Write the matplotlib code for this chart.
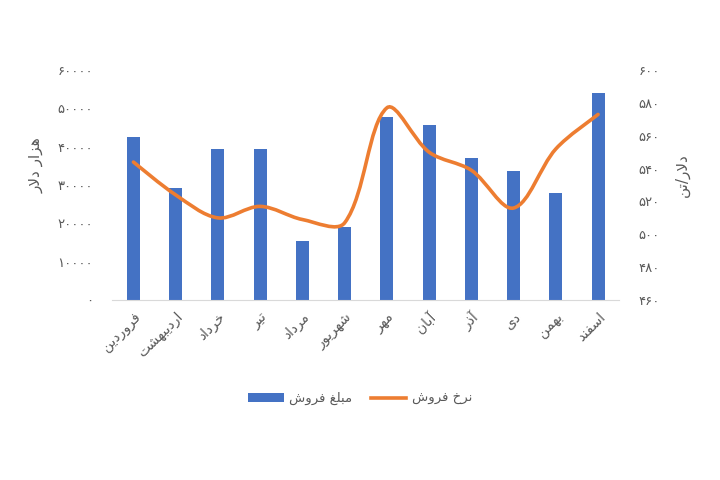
import numpy as np
import matplotlib
matplotlib.use('Agg')
import matplotlib.pyplot as plt
from matplotlib.path import Path
from matplotlib.patches import PathPatch, Patch
from matplotlib.lines import Line2D

plt.rcParams['font.family'] = ['DejaVu Sans']

# داده‌ها
months = ['فروردین', 'اردیبهشت', 'خرداد', 'تیر', 'مرداد', 'شهریور',
          'مهر', 'آبان', 'آذر', 'دی', 'بهمن', 'اسفند']
sales_amount = [42600, 29300, 39400, 39400, 15500, 19100,
                47700, 45700, 37000, 33700, 27800, 53900]
sales_rate = [544, 524, 510, 517, 509, 507, 577, 550, 539, 516, 552, 573]
left_ticks = [0, 10000, 20000, 30000, 40000, 50000, 60000]
right_ticks = [460, 480, 500, 520, 540, 560, 580, 600]

# شکل‌دهی حروف فارسی (matplotlib این کار را خودش نمی‌کند)
# (isolated, final, initial, medial)
FORMS = {
    'ا': ('\uFE8D', '\uFE8E', None, None),
    'آ': ('\uFE81', '\uFE82', None, None),
    'ب': ('\uFE8F', '\uFE90', '\uFE91', '\uFE92'),
    'ت': ('\uFE95', '\uFE96', '\uFE97', '\uFE98'),
    'خ': ('\uFEA5', '\uFEA6', '\uFEA7', '\uFEA8'),
    'د': ('\uFEA9', '\uFEAA', None, None),
    'ذ': ('\uFEAB', '\uFEAC', None, None),
    'ر': ('\uFEAD', '\uFEAE', None, None),
    'ز': ('\uFEAF', '\uFEB0', None, None),
    'س': ('\uFEB1', '\uFEB2', '\uFEB3', '\uFEB4'),
    'ش': ('\uFEB5', '\uFEB6', '\uFEB7', '\uFEB8'),
    'غ': ('\uFECD', '\uFECE', '\uFECF', '\uFED0'),
    'ف': ('\uFED1', '\uFED2', '\uFED3', '\uFED4'),
    'ل': ('\uFEDD', '\uFEDE', '\uFEDF', '\uFEE0'),
    'م': ('\uFEE1', '\uFEE2', '\uFEE3', '\uFEE4'),
    'ن': ('\uFEE5', '\uFEE6', '\uFEE7', '\uFEE8'),
    'ه': ('\uFEE9', '\uFEEA', '\uFEEB', '\uFEEC'),
    'و': ('\uFEED', '\uFEEE', None, None),
    'ی': ('\uFEEF', '\uFEF0', '\uFEF3', '\uFEF4'),
}
LAM_ALEF = {'ا': ('\uFEFB', '\uFEFC'), 'آ': ('\uFEF5', '\uFEF6')}


def fa(text):
    out = []
    i = 0
    n = len(text)
    while i < n:
        c = text[i]
        if c not in FORMS:
            out.append(c)
            i += 1
            continue
        prev = text[i - 1] if i > 0 else ''
        join_prev = prev in FORMS and FORMS[prev][2] is not None
        if c == 'ل' and i + 1 < n and text[i + 1] in LAM_ALEF:
            out.append(LAM_ALEF[text[i + 1]][1 if join_prev else 0])
            i += 2
            continue
        nxt = text[i + 1] if i + 1 < n else ''
        join_next = FORMS[c][2] is not None and nxt in FORMS
        iso, fin, ini, med = FORMS[c]
        if join_prev and join_next:
            out.append(med)
        elif join_prev:
            out.append(fin)
        elif join_next:
            out.append(ini)
        else:
            out.append(iso)
        i += 1
    return ''.join(reversed(out))


def fa_num(v):
    return str(v).translate(str.maketrans('0123456789', '۰۱۲۳۴۵۶۷۸۹'))


blue = '#4472C4'
orange = '#ED7D31'
gray = '#595959'

fig = plt.figure(figsize=(7.2, 4.8), dpi=100)
ax = fig.add_axes([0.156, 0.375, 0.704, 0.479])
ax2 = ax.twinx()

x = np.arange(len(months))
ax.bar(x, sales_amount, width=0.31, color=blue, zorder=2)
ax.set_xlim(-0.5, len(months) - 0.5)
ax.set_ylim(0, 60000)
ax.set_yticks(left_ticks)
ax.set_yticklabels([fa_num(v) for v in left_ticks], color=gray, fontsize=9.5)
ax.set_xticks(x)
ax.set_xticklabels([fa(m) for m in months], rotation=45, ha='right', va='top',
                   rotation_mode='anchor', color=gray, fontsize=10)
ax.tick_params(axis='both', length=0)
ax.tick_params(axis='y', pad=14)
ax.tick_params(axis='x', pad=7)

ax2.set_ylim(460, 600)

# خط نرم شبیه اکسل: بزیه با وزن طول قطعه‌ها در مختصات پیکسلی
fig.canvas.draw()
to_px = ax2.transData
pts = to_px.transform(np.column_stack([x, sales_rate]).astype(float))
verts = [pts[0]]
codes = [Path.MOVETO]
m = len(pts)


def tangent(k):
    p0 = pts[max(k - 1, 0)]
    p2 = pts[min(k + 1, m - 1)]
    return p2 - p0


for k in range(m - 1):
    p1, p2 = pts[k], pts[k + 1]
    d12 = np.hypot(*(p2 - p1))
    d01 = np.hypot(*(p1 - pts[k - 1])) if k > 0 else d12
    d23 = np.hypot(*(pts[k + 2] - p2)) if k + 2 < m else d12
    c1 = p1 + tangent(k) / 3.0 * d12 / (d01 + d12)
    c2 = p2 - tangent(k + 1) / 3.0 * d12 / (d12 + d23)
    verts += [c1, c2, p2]
    codes += [Path.CURVE4] * 3
verts = to_px.inverted().transform(np.array(verts))
ax2.add_patch(PathPatch(Path(verts, codes), facecolor='none', edgecolor=orange,
                        lw=2.6, capstyle='round', zorder=3))
ax2.set_yticks(right_ticks)
ax2.set_yticklabels([fa_num(v) for v in right_ticks], color=gray, fontsize=9.5)
ax2.tick_params(axis='y', length=0, pad=14)

for a in (ax, ax2):
    for s in ('top', 'left', 'right'):
        a.spines[s].set_visible(False)
ax.spines['bottom'].set_color('#d9d9d9')
ax2.spines['bottom'].set_visible(False)

fig.text(0.05, 0.655, fa('هزار دلار'), rotation=90, ha='center', va='center',
         color=gray, fontsize=11)
fig.text(0.948, 0.635, fa('دلار/تن'), rotation=90, ha='center', va='center',
         color=gray, fontsize=11)

handles = [Patch(facecolor=blue), Line2D([0], [0], color=orange, lw=2.6)]
labels = [fa('مبلغ فروش'), fa('نرخ فروش')]
fig.legend(handles, labels, loc='center', bbox_to_anchor=(0.5, 0.169), ncol=2,
           frameon=False, fontsize=9.5, handlelength=2.7, handletextpad=0.4,
           columnspacing=1.4, labelcolor=gray)

fig.savefig('out.png', dpi=100)
